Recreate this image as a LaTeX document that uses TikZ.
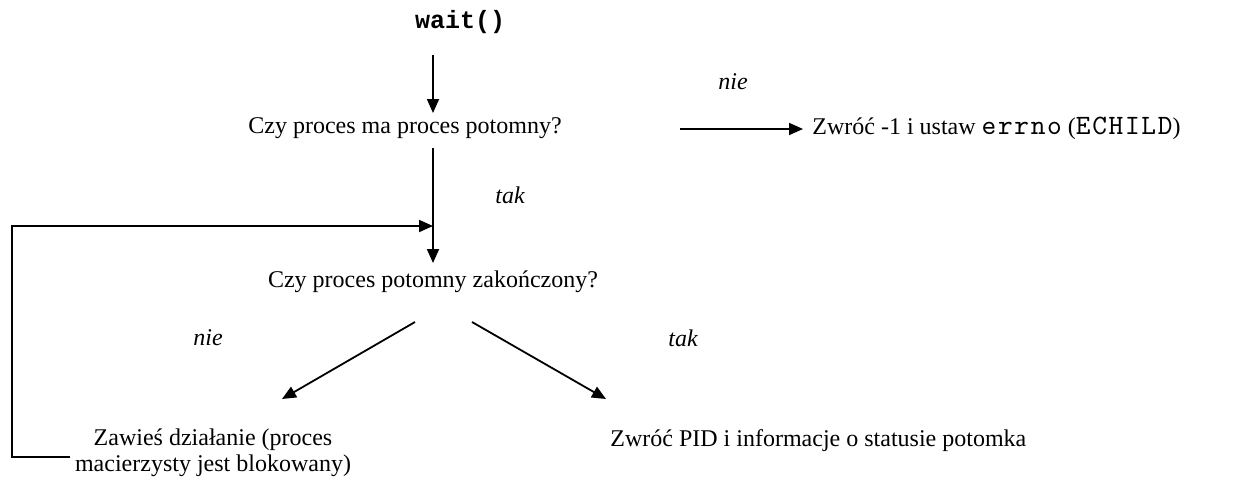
\documentclass[tikz,border=0pt]{standalone}
\usepackage{fontspec}
\setmainfont{Liberation Serif}
\newfontfamily\boldmono{Liberation Mono}
\newfontfamily\thinmono{lmmono10-regular.otf}[LetterSpace=6]
\usetikzlibrary{arrows.meta}
\newcommand{\codetxt}[1]{{\fontsize{14}{13}\selectfont\thinmono #1}}
\begin{document}
\begin{tikzpicture}[x=0.5pt,y=-0.5pt,
  txt/.style={inner sep=0pt, font=\fontsize{12}{13}\selectfont},
  lbl/.style={inner sep=0pt, font=\fontsize{12}{13}\selectfont\itshape},
  arr/.style={line width=0.9pt, -{Triangle[length=7pt,width=6pt]}}]
\useasboundingbox (0,0) rectangle (1240,488);
% texts
\node[inner sep=0pt, font=\fontsize{12.5}{13}\selectfont\boldmono\bfseries] (wait) at (460,22) {wait()};
\node[txt] (q1) at (405,128) {Czy proces ma proces potomny?};
\node[txt, anchor=west] (err) at (812,128) {Zwróć -1 i ustaw \codetxt{errno} (\codetxt{ECHILD})};
\node[txt] (q2) at (433,282) {Czy proces potomny zakończony?};
\node[txt, align=center] (susp) at (213,453) {Zawieś działanie (proces\\macierzysty jest blokowany)};
\node[txt, anchor=west] (ret) at (610,441) {Zwróć PID i informacje o statusie potomka};
% labels
\node[lbl] (nie1) at (733,82) {nie};
\node[lbl] (tak1) at (510,195) {tak};
\node[lbl] (nie2) at (208,338) {nie};
\node[lbl] (tak2) at (683,338) {tak};
% connector points
\coordinate (a1s) at (433,55);
\coordinate (a1e) at (433,113);
\coordinate (r1s) at (680,129);
\coordinate (r1e) at (803,129);
\coordinate (a2s) at (433,148);
\coordinate (a2e) at (433,263);
\coordinate (lb) at (70,457);
\coordinate (ll) at (12,457);
\coordinate (lt) at (12,226);
\coordinate (lm) at (433,226);
\coordinate (d1s) at (415,322);
\coordinate (d1e) at (282,399);
\coordinate (d2s) at (472,322);
\coordinate (d2e) at (606,399);
% connectors
\draw[arr] (a1s) -- (a1e);
\draw[arr] (r1s) -- (r1e);
\draw[arr] (a2s) -- (a2e);
\draw[arr] (lb) -- (ll) -- (lt) -- (lm);
\draw[arr] (d1s) -- (d1e);
\draw[arr] (d2s) -- (d2e);
\end{tikzpicture}
\end{document}
